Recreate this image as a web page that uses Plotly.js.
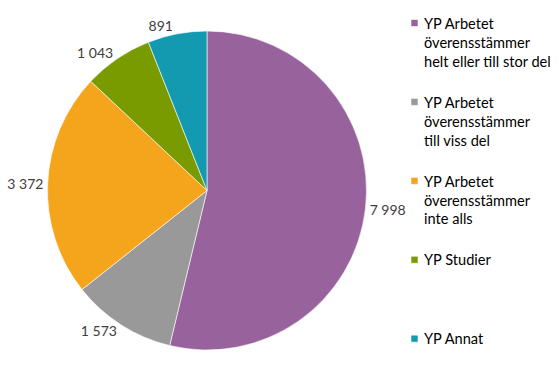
<!DOCTYPE html>
<html>
<head>
<meta charset="utf-8">
<script src="https://cdn.plot.ly/plotly-3.0.1.min.js"></script>
<style>html,body{margin:0;padding:0;background:#fff;}#chart{width:558px;height:374px;}</style>
</head>
<body>
<div id="chart"></div>
<script>
const categories = [
  "YP Arbetet överensstämmer helt eller till stor del",
  "YP Arbetet överensstämmer till viss del",
  "YP Arbetet överensstämmer inte alls",
  "YP Studier",
  "YP Annat"
];
const legendLabels = [
  ["YP Arbetet", "överensstämmer", "helt eller till stor del"],
  ["YP Arbetet", "överensstämmer", "till viss del"],
  ["YP Arbetet", "överensstämmer", "inte alls"],
  ["YP Studier"],
  ["YP Annat"]
];
const values = [7998, 1573, 3372, 1043, 891];
const colors = ["#98639C", "#999999", "#F4A51C", "#799B00", "#139AB1"];

function fmt(v){ return String(v).replace(/\B(?=(\d{3})+(?!\d))/g, "\u00a0"); }
function padLines(lines, i){
  const out = lines.slice();
  if (i < legendLabels.length - 1) { while(out.length < 4) out.push(" "); }
  return out.join("<br>");
}

const FONT = "Lato, 'Open Sans', sans-serif";

const trace = {
  type: "pie",
  labels: legendLabels.map(padLines),
  values: values,
  text: values.map(fmt),
  textinfo: "text",
  textposition: "outside",
  hoverinfo: "label+value",
  sort: false,
  direction: "clockwise",
  rotation: 0,
  marker: { colors: colors, line: { color: "#ffffff", width: 0.6 } },
  outsidetextfont: { family: FONT, size: 14, color: "#404040" },
  domain: { x: [47/558, 367/558], y: [24/374, 343/374] }
};

const layout = {
  width: 558, height: 374,
  margin: { l: 0, r: 0, t: 0, b: 0, autoexpand: false },
  paper_bgcolor: "#ffffff",
  showlegend: true,
  font: { family: FONT, size: 14.6, color: "#000000" },
  legend: {
    x: 384/558, xanchor: "left", y: (374-7)/374, yanchor: "top",
    valign: "top", traceorder: "normal",
    bgcolor: "rgba(0,0,0,0)",
    font: { family: FONT, size: 14.6, color: "#000000" },
    itemwidth: 30, maxheight: 1
  }
};

Plotly.newPlot("chart", [trace], layout, { displayModeBar: false, staticPlot: true }).then(function(){
  // smaller legend swatches placed next to the text, as in the reference
  document.querySelectorAll("#chart .legendpoints path").forEach(function(p){
    p.setAttribute("d", "M14,3.5H7V-3.5H14Z");
  });
});
</script>
</body>
</html>
